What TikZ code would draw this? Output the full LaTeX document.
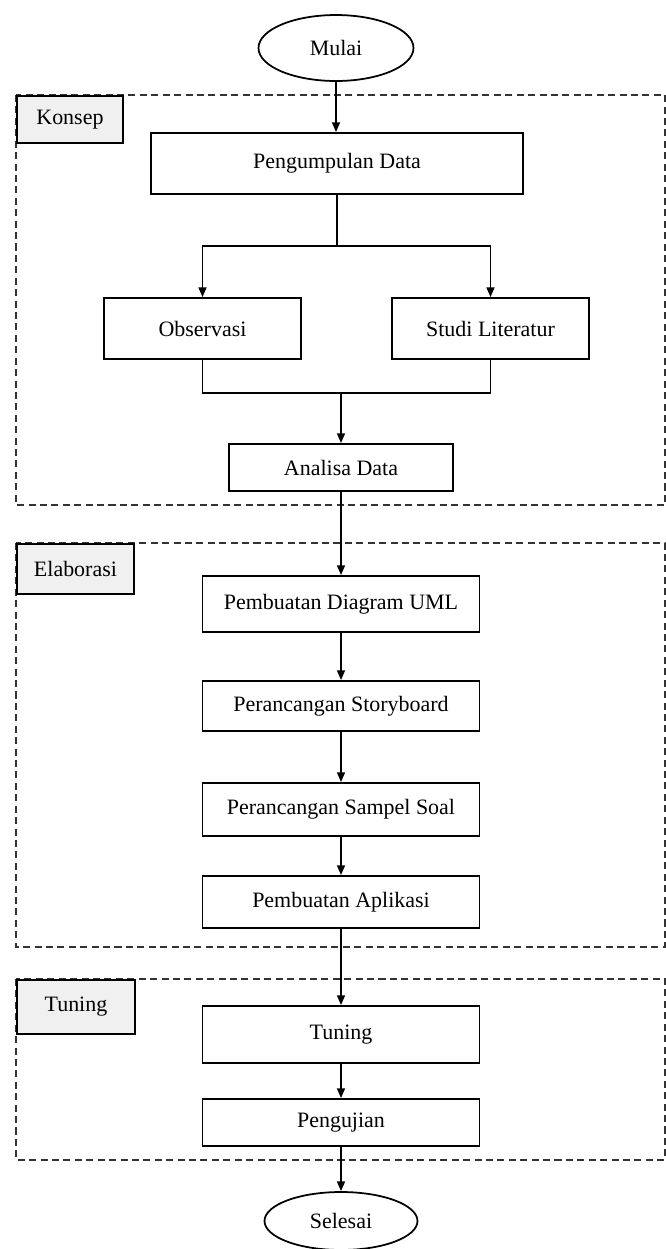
\documentclass[tikz,border=0pt]{standalone}
\usepackage{fontspec}
\setmainfont{Liberation Serif}
\usetikzlibrary{arrows.meta,positioning,shapes.geometric}
\definecolor{lblfill}{HTML}{F0F0F0}
\definecolor{framec}{HTML}{333333}

\begin{document}
\begin{tikzpicture}[
  x=0.02cm, y=-0.02cm,
  >={Triangle[length=5.5pt,width=4.5pt]},
  every node/.style={font=\fontsize{12.5}{14}\selectfont},
  proc/.style={draw, line width=1.1pt, inner sep=0pt, align=center,
     minimum width=5.54cm, minimum height=1.04cm},
  term/.style={ellipse, draw, line width=1pt, inner sep=0pt,
     minimum width=3.1cm, minimum height=1.32cm},
  phase/.style={draw, line width=1.1pt, fill=lblfill, inner sep=0pt,
     anchor=north west, minimum height=0.94cm},
  frame/.style={draw=framec, line width=0.75pt, dash pattern=on 4pt off 2.5pt},
  arr/.style={->, line width=0.9pt},
  bus/.style={line width=0.9pt},
]
\useasboundingbox (0,0) rectangle (666,1249);
% --- rows (top -> bottom) ---
\def\xc{341}
% phase frames
\draw[frame] (16,95)  rectangle (665,505);
\draw[frame] (16,543) rectangle (665,947);
\draw[frame] (16,979) rectangle (665,1160);
\node[phase, minimum width=2.12cm] (konsep) at (16,95)  {Konsep};
\node[phase, minimum width=2.34cm, minimum height=1.0cm] (elab) at (16,543) {Elaborasi};
\node[phase, minimum width=2.36cm, minimum height=1.08cm] (tunlbl) at (16,979) {Tuning};
% konsep
\node[term] (mulai) at (336,48) {Mulai};
\node[proc, minimum width=7.44cm, minimum height=1.22cm] (kumpul) at (337,163.5) {Pengumpulan Data};
\node[proc, minimum width=3.94cm, minimum height=1.22cm] (obs) at (202.5,328.5) {Observasi};
\node[proc, minimum width=3.94cm, minimum height=1.22cm] (studi) at (490.5,328.5) {Studi Literatur};
\node[proc, minimum width=4.48cm, minimum height=0.94cm] (analisa) at (\xc,467.5) {Analisa Data};
% elaborasi
\node[proc, minimum height=1.12cm] (uml)   at (\xc,604)   {Pembuatan Diagram UML};
\node[proc, minimum height=1.0cm]  (story) at (\xc,706)   {Perancangan Storyboard};
\node[proc, minimum height=1.06cm] (soal)  at (\xc,809.5) {Perancangan Sampel Soal};
\node[proc, minimum height=1.04cm] (apl)   at (\xc,902)   {Pembuatan Aplikasi};
% tuning
\node[proc, minimum height=1.14cm] (tuning) at (\xc,1034.5) {Tuning};
\node[proc, minimum height=0.94cm] (uji)    at (\xc,1122.5) {Pengujian};
\node[term, minimum width=3.06cm, minimum height=1.16cm] (selesai) at (\xc,1221) {Selesai};
% --- arrows ---
\draw[arr] (mulai.south) -- (mulai.south |- kumpul.north);
% branch to observasi / studi literatur
\coordinate (split) at (337,246);
\draw[bus] (kumpul.south) -- (split);
\draw[arr] (split) -| (obs.north);
\draw[arr] (split) -| (studi.north);
% merge into analisa
\coordinate (join) at (\xc,393);
\draw[bus] (obs.south) |- (join) -| (studi.south);
\draw[arr] (join) -- (analisa.north);
% chain
\draw[arr] (analisa) -- (uml);
\draw[arr] (uml) -- (story);
\draw[arr] (story) -- (soal);
\draw[arr] (soal) -- (apl);
\draw[arr] (apl) -- (tuning);
\draw[arr] (tuning) -- (uji);
\draw[arr] (uji) -- (selesai);
\end{tikzpicture}
\end{document}
